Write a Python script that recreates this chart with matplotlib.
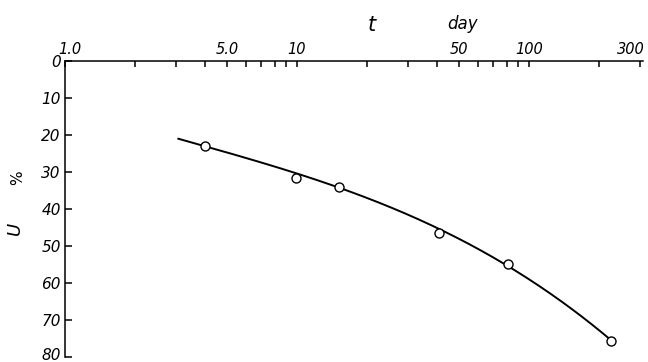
import numpy as np
import matplotlib
matplotlib.use("Agg")
import matplotlib.pyplot as plt
import matplotlib.transforms as mtransforms
from matplotlib.ticker import FixedLocator, NullFormatter

# Measured points (t in days, U in %)
t_pts = [4.0, 9.9, 15.1, 41.0, 81.0, 225.0]
u_pts = [23.0, 31.5, 34.1, 46.4, 54.9, 75.6]

# Points
curve_t = [3.08, 4.0, 10.0, 15.1, 41.0, 81.0, 225.0]
curve_u = [21.2, 22.8, 30.4, 34.0, 46.1, 54.8, 75.5]

major_ticks = [1.0, 5.0, 10, 50, 100, 300]
major_labels = ["1.0", "5.0", "10", "50", "100", "300"]
minor_ticks = [2, 3, 4, 6, 7, 8, 9, 20, 30, 40, 60, 70, 80, 90, 200]
y_ticks = [0, 10, 20, 30, 40, 50, 60, 70, 80]
y_labels = ["0", "10", "20", "30", "40", "50", "60", "70", "80"]

fig = plt.figure(figsize=(6.48, 3.62), dpi=100)
ax = fig.add_axes([0.1003, 0.0138, 0.892, 0.8177])

# smooth curve via cubic fit in log-t
lx = np.log10(curve_t)
coef = np.polyfit(lx, curve_u, 3)
xs = np.linspace(lx.min(), lx.max(), 300)
ax.plot(10 ** xs, np.polyval(coef, xs), color="black", lw=1.4, zorder=2)
ax.plot(t_pts, u_pts, "o", ms=6.5, mfc="white", mec="black", mew=1.0, zorder=3)

ax.set_xscale("log")
ax.set_xlim(1.0, 310)
ax.set_ylim(80, 0)

for s in ["bottom", "right"]:
    ax.spines[s].set_visible(False)
for s in ["top", "left"]:
    ax.spines[s].set_linewidth(1.1)

ax.xaxis.set_ticks_position("top")
ax.xaxis.set_major_locator(FixedLocator(major_ticks))
ax.xaxis.set_minor_locator(FixedLocator(minor_ticks))
ax.xaxis.set_minor_formatter(NullFormatter())
ax.set_xticklabels(major_labels, fontstyle="italic", fontsize=10.5)
ax.tick_params(axis="x", which="both", direction="in", length=4.5, width=1.1, pad=3)
ax.tick_params(axis="x", which="major", top=True, bottom=False)
ax.tick_params(axis="x", which="minor", top=True, bottom=False)

ax.set_yticks(y_ticks)
ax.set_yticklabels(y_labels, fontstyle="italic", fontsize=11)
ax.tick_params(axis="y", direction="in", length=5, width=1.1, pad=3)

# small label nudges as in the reference
xlabs = ax.get_xticklabels()
xlabs[0].set_transform(xlabs[0].get_transform() +
                       mtransforms.ScaledTranslation(5 / 100, 0, fig.dpi_scale_trans))
xlabs[-1].set_transform(xlabs[-1].get_transform() +
                        mtransforms.ScaledTranslation(-9 / 100, 0, fig.dpi_scale_trans))
ylabs = ax.get_yticklabels()
ylabs[-1].set_transform(ylabs[-1].get_transform() +
                        mtransforms.ScaledTranslation(0, 3 / 100, fig.dpi_scale_trans))

fig.text(372 / 648, 1 - 25 / 362, "t", fontstyle="italic", fontsize=15,
         ha="center", va="center")
fig.text(463 / 648, 1 - 24 / 362, "day", fontstyle="italic", fontsize=12,
         ha="center", va="center")
fig.text(18 / 648, 1 - 178 / 362, "%", fontsize=11, rotation=90,
         ha="center", va="center")
fig.text(15 / 648, 1 - 228 / 362, "U", fontstyle="italic", fontsize=13,
         rotation=90, ha="center", va="center")

fig.savefig("out.png", dpi=100)
